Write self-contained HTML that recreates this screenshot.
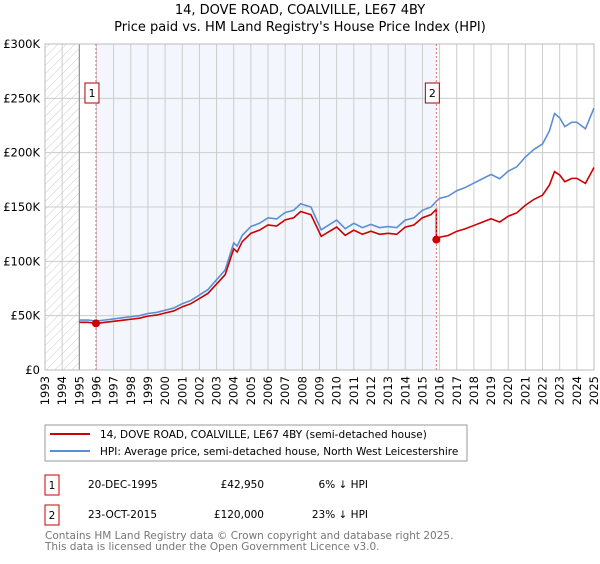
<!DOCTYPE html>
<html><head><meta charset="utf-8"><style>
body{margin:0;background:#fff;font-family:"DejaVu Sans","Liberation Sans",sans-serif;}
svg text{font-family:"DejaVu Sans","Liberation Sans",sans-serif;}
</style></head><body>
<svg id="c" width="600" height="560" xmlns="http://www.w3.org/2000/svg">
<defs><pattern id="hatch" width="6" height="6" patternUnits="userSpaceOnUse" patternTransform="rotate(45)"><line x1="0" y1="0" x2="0" y2="6" stroke="#ccc" stroke-width="1"/></pattern></defs>
<text x="300" y="14" text-anchor="middle" font-size="13">14, DOVE ROAD, COALVILLE, LE67 4BY</text>
<text x="300" y="31" text-anchor="middle" font-size="13">Price paid vs. HM Land Registry's House Price Index (HPI)</text>
<g id="plot"></g>
<rect x="45" y="425" width="422" height="36" fill="#fff" stroke="#999"/>
<line x1="50" y1="434" x2="90" y2="434" stroke="#cc0000" stroke-width="2"/>
<text x="100" y="438" font-size="10.5">14, DOVE ROAD, COALVILLE, LE67 4BY (semi-detached house)</text>
<line x1="50" y1="451" x2="90" y2="451" stroke="#5b8fd4" stroke-width="2"/>
<text x="100" y="455" font-size="10.5">HPI: Average price, semi-detached house, North West Leicestershire</text>
<g font-size="10.5">
<rect x="45" y="475" width="14" height="20" fill="#fff" stroke="#cc0000"/><text x="52" y="489" text-anchor="middle">1</text>
<text x="88" y="488">20-DEC-1995</text><text x="264" y="488" text-anchor="end">£42,950</text><text x="368" y="488" text-anchor="end">6% ↓ HPI</text>
<rect x="45" y="505" width="14" height="20" fill="#fff" stroke="#cc0000"/><text x="52" y="519" text-anchor="middle">2</text>
<text x="88" y="518">23-OCT-2015</text><text x="264" y="518" text-anchor="end">£120,000</text><text x="368" y="518" text-anchor="end">23% ↓ HPI</text>
</g>
<text x="45" y="539" font-size="10.5" fill="#777">Contains HM Land Registry data © Crown copyright and database right 2025.</text>
<text x="45" y="550" font-size="10.5" fill="#777">This data is licensed under the Open Government Licence v3.0.</text>
</svg>
<script>
const years=[1995.0,1995.5,1996.0,1996.5,1997.0,1997.5,1998.0,1998.5,1999.0,1999.5,2000.0,2000.5,2001.0,2001.5,2002.0,2002.5,2003.0,2003.5,2004.0,2004.2,2004.5,2005.0,2005.5,2006.0,2006.5,2007.0,2007.5,2007.9,2008.5,2009.1,2009.5,2010.0,2010.5,2011.0,2011.5,2012.0,2012.5,2013.0,2013.5,2014.0,2014.5,2015.0,2015.5,2015.8,2016.0,2016.5,2017.0,2017.5,2018.0,2018.5,2019.0,2019.5,2020.0,2020.5,2021.0,2021.5,2022.0,2022.4,2022.7,2023.0,2023.3,2023.7,2024.0,2024.5,2025.0];
const hpi=[46,46,45,46,47,48,49,50,52,53,55,57,61,64,69,74,83,92,117,114,124,132,135,140,139,145,147,153,150,129,133,138,130,135,131,134,131,132,131,138,140,147,150,155,158,160,165,168,172,176,180,176,183,187,196,203,208,220,236,232,224,228,228,222,241];
const sales=[{t:1995.97,p:42950,n:1},{t:2015.81,p:120000,n:2}];
const yTicks=[0,50,100,150,200,250,300];
const X0=45,X1=594,Y0=370,Y1=44;
const x=t=>X0+(t-1993)/(2025-1993)*(X1-X0);
const y=v=>Y0-v/300*(Y0-Y1);
const NS="http://www.w3.org/2000/svg";
const g=document.getElementById('plot');
function mk(tag,a){const e=document.createElementNS(NS,tag);for(const k in a)e.setAttribute(k,a[k]);g.appendChild(e);return e;}
let e;
e=mk('rect',{x:x(1993),y:Y1,width:x(1995)-x(1993),height:Y0-Y1,fill:'url(#hatch)'});


e=mk('rect',{x:x(sales[0].t),y:Y1,width:x(sales[1].t)-x(sales[0].t),height:Y0-Y1,fill:'#eef3fc',opacity:0.7});


for(let yr=1993;yr<=2025;yr++){
 e=mk('line',{x1:x(yr),x2:x(yr),y1:Y1,y2:Y0,stroke:'#ccc'});
 
 
 e=mk('text',{transform:`translate(${x(yr)+4},${Y0+6}) rotate(-90)`,'text-anchor':'end','font-size':'11.5'});
 e.textContent=yr;
 
 
}
yTicks.forEach(v=>{
 e=mk('line',{x1:X0,x2:X1,y1:y(v),y2:y(v),stroke:'#ccc'});
 
 
 e=mk('text',{x:X0-5,y:y(v)+4,'text-anchor':'end','font-size':'11.5'});
 e.textContent=v===0?'£0':'£'+v+'K';
 
 
});
e=mk('line',{x1:x(1995),x2:x(1995),y1:Y1,y2:Y0,stroke:'#888'});


e=mk('rect',{x:X0,y:Y1,width:X1-X0,height:Y0-Y1,fill:'none',stroke:'#bbb'});


function hpiAt(t){for(let i=0;i<years.length-1;i++){if(t<=years[i+1]){const f=(t-years[i])/(years[i+1]-years[i]);return hpi[i]+f*(hpi[i+1]-hpi[i]);}}return hpi[hpi.length-1];}
// HPI line
e=mk('polyline',{points:years.map((t,i)=>x(t)+','+y(hpi[i])).join(' '),fill:'none',stroke:'#5b8fd4','stroke-width':1.6});


// property line: indexed from sales
const r1=sales[0].p/1000/hpiAt(sales[0].t), r2=sales[1].p/1000/hpiAt(sales[1].t);
let pts=[];
years.forEach((t,i)=>{if(t<sales[1].t)pts.push([t,hpi[i]*r1]);});
pts.push([sales[1].t,hpiAt(sales[1].t)*r1]);
pts.push([sales[1].t,sales[1].p/1000]);
years.forEach((t,i)=>{if(t>sales[1].t)pts.push([t,hpi[i]*r2]);});
e=mk('polyline',{points:pts.map(p=>x(p[0])+','+y(p[1])).join(' '),fill:'none',stroke:'#cc0000','stroke-width':1.6});


sales.forEach(s=>{
 e=mk('line',{x1:x(s.t),x2:x(s.t),y1:Y1,y2:Y0,stroke:'#e07070','stroke-dasharray':'2,2'});
 
 
 e=mk('circle',{cx:x(s.t),cy:y(s.p/1000),r:4,fill:'#cc0000'});
 
 
 e=mk('rect',{x:x(s.t)-11,y:83,width:14,height:20,fill:'#fff',stroke:'#aa0000'});
 
 
 e=mk('text',{x:x(s.t)-4,y:97,'text-anchor':'middle','font-size':'11'});
 e.textContent=s.n;
 
 
});
</script>
</body></html>
